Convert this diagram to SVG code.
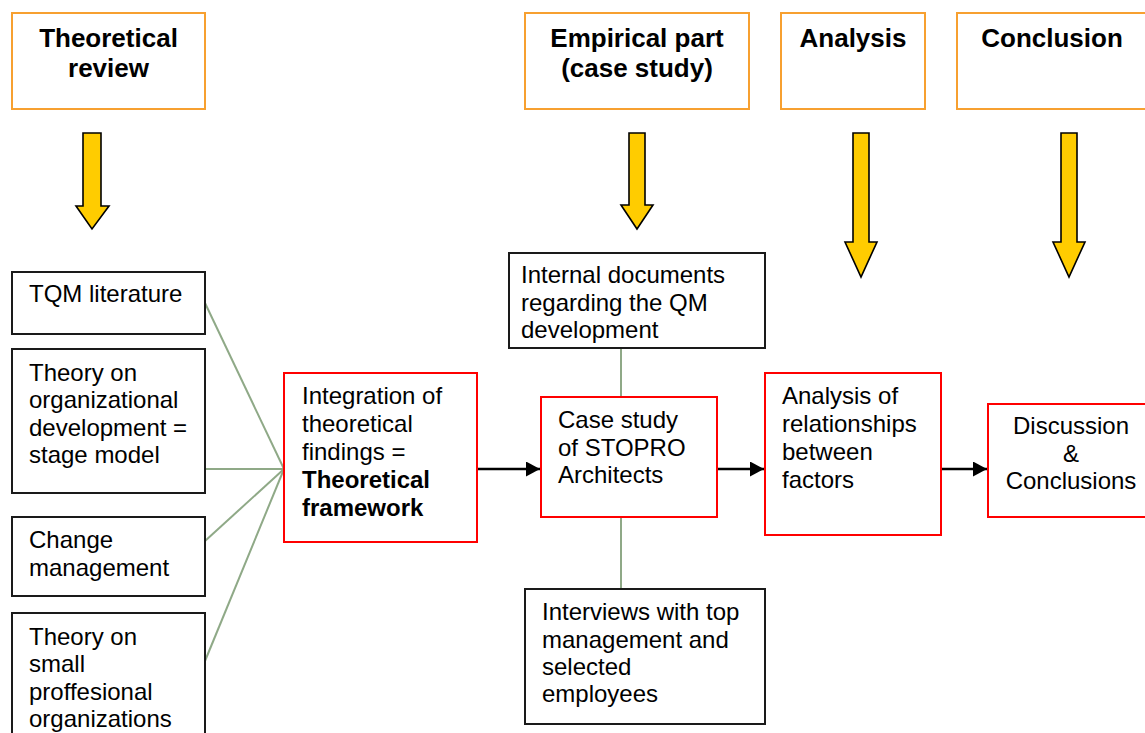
<svg xmlns="http://www.w3.org/2000/svg" width="1145" height="733" viewBox="0 0 1145 733">
<style>
  text { font-family: "Liberation Sans", Arial, sans-serif; fill: #000; }
  .hdr { fill: #fff; stroke: #F7A030; stroke-width: 2; }
  .htxt { font-size: 26px; font-weight: bold; text-anchor: middle; }
  .blk { fill: #fff; stroke: #1a1a1a; stroke-width: 2; }
  .red { fill: #fff; stroke: #FF0000; stroke-width: 2; }
  .t { font-size: 24px; }
  .b { font-weight: bold; }
  .mid { text-anchor: middle; }
  .yarrow { fill: #FFCC00; stroke: #000; stroke-width: 1.6; stroke-linejoin: miter; }
  .green { stroke: #8FA987; stroke-width: 2; fill: none; }
  .flow { stroke: #000; stroke-width: 2.5; fill: none; }
</style>
<defs>
  <marker id="ah" markerUnits="userSpaceOnUse" markerWidth="15" markerHeight="16" refX="14" refY="7.5" orient="auto">
    <path d="M0,0 L14,7.5 L0,15 Z" fill="#000"/>
  </marker>
</defs>
<rect width="1145" height="733" fill="#fff"/>

<g id="connectors">
  <line class="green" x1="205" y1="303" x2="284" y2="469"/>
  <line class="green" x1="205" y1="469" x2="284" y2="469"/>
  <line class="green" x1="205" y1="541" x2="284" y2="469"/>
  <line class="green" x1="205" y1="661" x2="284" y2="469"/>
  <line class="green" x1="621" y1="348" x2="621" y2="397"/>
  <line class="green" x1="621" y1="517" x2="621" y2="589"/>
  <line class="flow" x1="477" y1="469" x2="540" y2="469" marker-end="url(#ah)"/>
  <line class="flow" x1="717" y1="469" x2="764" y2="469" marker-end="url(#ah)"/>
  <line class="flow" x1="941" y1="469" x2="987" y2="469" marker-end="url(#ah)"/>
</g>

<g id="hdr-theoretical">
  <rect class="hdr" x="12" y="13" width="193" height="96"/>
  <text class="htxt" x="108.5" y="47">Theoretical</text>
  <text class="htxt" x="108.5" y="77">review</text>
</g>
<g id="hdr-empirical">
  <rect class="hdr" x="525" y="13" width="224" height="96"/>
  <text class="htxt" x="637" y="47">Empirical part</text>
  <text class="htxt" x="637" y="77">(case study)</text>
</g>
<g id="hdr-analysis">
  <rect class="hdr" x="781" y="13" width="144" height="96"/>
  <text class="htxt" x="853" y="47">Analysis</text>
</g>
<g id="hdr-conclusion">
  <rect class="hdr" x="957" y="13" width="200" height="96"/>
  <text class="htxt" x="1052" y="47">Conclusion</text>
</g>

<g id="arrow-1"><path class="yarrow" d="M83,133 H101 V206 H109 L92,229 L76,206 H83 Z"/></g>
<g id="arrow-2"><path class="yarrow" d="M629,133 H645 V205 H653 L637,229 L621,205 H629 Z"/></g>
<g id="arrow-3"><path class="yarrow" d="M853,133 H869 V242 H877 L861,277 L845,242 H853 Z"/></g>
<g id="arrow-4"><path class="yarrow" d="M1061,133 H1077 V242 H1085 L1069,277 L1053,242 H1061 Z"/></g>

<g id="tqm">
  <rect class="blk" x="12" y="272" width="193" height="62"/>
  <text class="t" x="29" y="302">TQM literature</text>
</g>
<g id="theory-org">
  <rect class="blk" x="12" y="349" width="193" height="144"/>
  <text class="t" x="29" y="381">Theory on</text>
  <text class="t" x="29" y="408">organizational</text>
  <text class="t" x="29" y="436">development =</text>
  <text class="t" x="29" y="463">stage model</text>
</g>
<g id="change">
  <rect class="blk" x="12" y="517" width="193" height="79"/>
  <text class="t" x="29" y="548">Change</text>
  <text class="t" x="29" y="576">management</text>
</g>
<g id="theory-small">
  <rect class="blk" x="12" y="613" width="193" height="140"/>
  <text class="t" x="29" y="645">Theory on</text>
  <text class="t" x="29" y="672">small</text>
  <text class="t" x="29" y="700">proffesional</text>
  <text class="t" x="29" y="727">organizations</text>
</g>

<g id="integration">
  <rect class="red" x="284" y="373" width="193" height="169"/>
  <text class="t" x="302" y="404">Integration of</text>
  <text class="t" x="302" y="432">theoretical</text>
  <text class="t" x="302" y="460">findings =</text>
  <text class="t b" x="302" y="488">Theoretical</text>
  <text class="t b" x="302" y="516">framework</text>
</g>

<g id="internal-docs">
  <rect class="blk" x="509" y="253" width="256" height="95"/>
  <text class="t" x="521" y="283">Internal documents</text>
  <text class="t" x="521" y="310.5">regarding the QM</text>
  <text class="t" x="521" y="338">development</text>
</g>

<g id="case-study">
  <rect class="red" x="541" y="397" width="176" height="120"/>
  <text class="t" x="558" y="428">Case study</text>
  <text class="t" x="558" y="456">of STOPRO</text>
  <text class="t" x="558" y="483">Architects</text>
</g>

<g id="interviews">
  <rect class="blk" x="525" y="589" width="240" height="135"/>
  <text class="t" x="542" y="620">Interviews with top</text>
  <text class="t" x="542" y="648">management and</text>
  <text class="t" x="542" y="675">selected</text>
  <text class="t" x="542" y="702">employees</text>
</g>

<g id="analysis">
  <rect class="red" x="765" y="373" width="176" height="162"/>
  <text class="t" x="782" y="404">Analysis of</text>
  <text class="t" x="782" y="432">relationships</text>
  <text class="t" x="782" y="460">between</text>
  <text class="t" x="782" y="488">factors</text>
</g>

<g id="discussion">
  <rect class="red" x="988" y="404" width="170" height="113"/>
  <text class="t mid" x="1071" y="434">Discussion</text>
  <text class="t mid" x="1071" y="462">&amp;</text>
  <text class="t mid" x="1071" y="489">Conclusions</text>
</g>
</svg>
